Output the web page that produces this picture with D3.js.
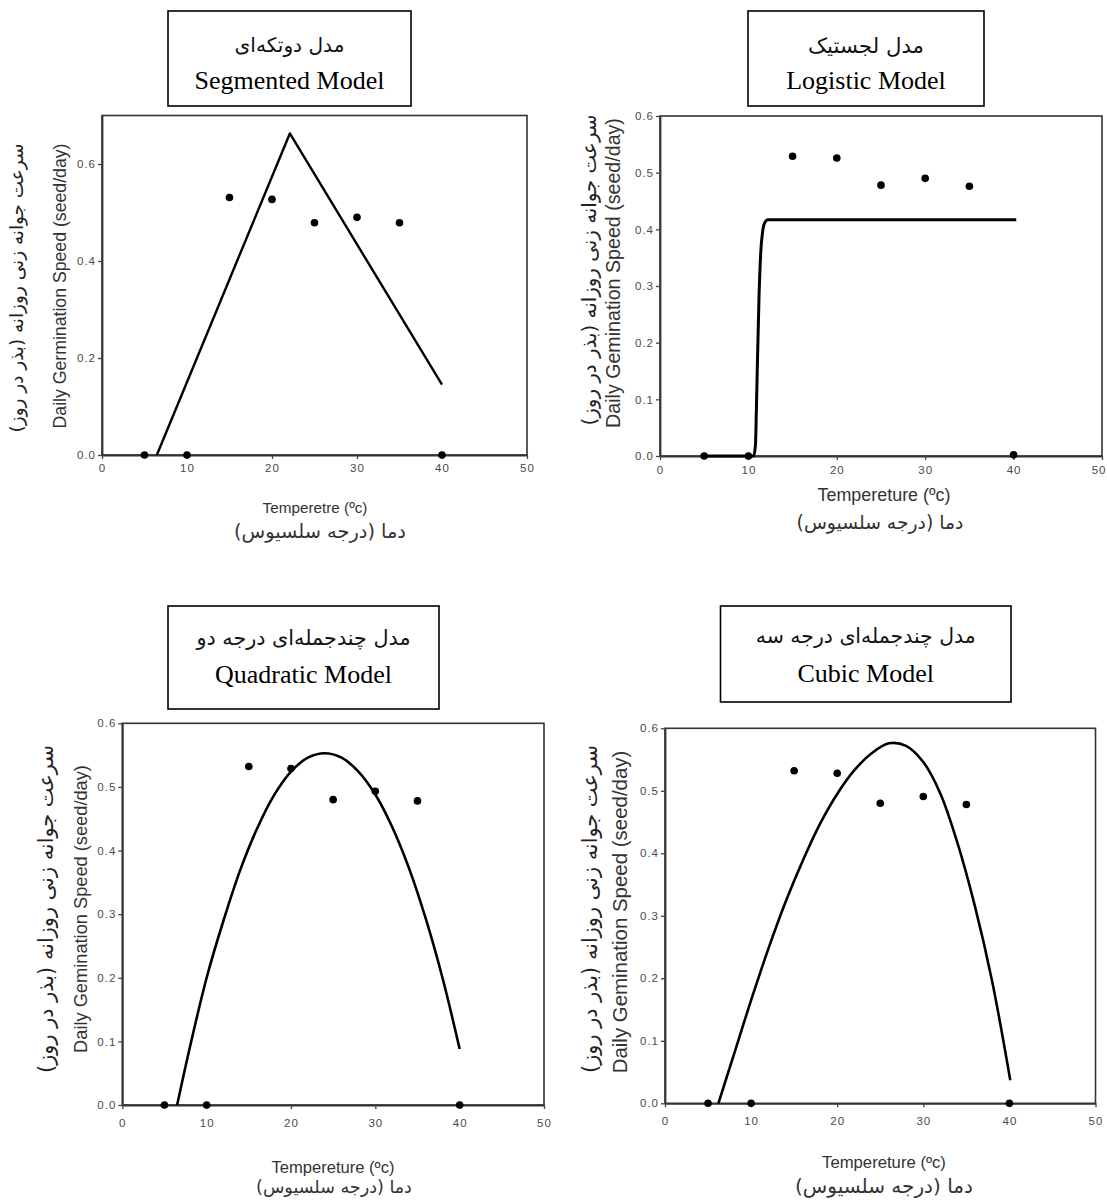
<!DOCTYPE html>
<html>
<head>
<meta charset="utf-8">
<script src="https://cdn.jsdelivr.net/npm/d3@7"></script>
<style>
  html, body { margin: 0; padding: 0; background: #fff; }
  svg { display: block; }
</style>
</head>
<body>
<svg id="chart" width="1107" height="1200"></svg>
<script>
// ---------------- DATA ----------------
const temps = [5, 10, 15, 20, 25, 30, 35, 40];

const segmentedObs = [0, 0, 0.531, 0.527, 0.479, 0.49, 0.479, 0];
const logisticObs  = [0, 0, 0.529, 0.526, 0.478, 0.49, 0.476, 0.002];
const quadraticObs = [0, 0, 0.532, 0.529, 0.48, 0.493, 0.478, 0];
const cubicObs     = [0, 0, 0.532, 0.528, 0.48, 0.491, 0.478, 0];

const segmentedFitX = [6.45, 22.1, 40];
const segmentedFitY = [0, 0.663, 0.145];

const logisticFitX = [5, 10.6, 10.8, 10.9, 11.0, 11.2, 11.4, 11.6, 11.8, 12.2, 40.3];
const logisticFitY = [0, 0, 0.02, 0.08, 0.15, 0.28, 0.36, 0.395, 0.41, 0.417, 0.417];

const quadraticFitX = [6.5, 8, 10, 12, 14, 16, 18, 20, 22, 24, 26, 28, 30, 32, 34, 36, 38, 40];
const quadraticFitY = [0, 0.09, 0.2, 0.29, 0.37, 0.435, 0.487, 0.524, 0.546, 0.553, 0.546, 0.524, 0.488, 0.437, 0.372, 0.292, 0.198, 0.088];

const cubicFitX = [6.2, 8, 10, 12, 14, 16, 18, 20, 22, 24, 26, 28, 30, 32, 34, 36, 38, 40.1];
const cubicFitY = [0, 0.078, 0.165, 0.247, 0.322, 0.388, 0.447, 0.495, 0.533, 0.56, 0.576, 0.572, 0.546, 0.495, 0.415, 0.315, 0.195, 0.037];

const xTicks = [0, 10, 20, 30, 40, 50];
const yTicksSeg = [0, 0.2, 0.4, 0.6];
const yTicksPoly = [0, 0.1, 0.2, 0.3, 0.4, 0.5, 0.6];

const titlesFa = ["مدل دوتکه‌ای", "مدل لجستیک", "مدل چندجمله‌ای درجه دو", "مدل چندجمله‌ای درجه سه"];
const titlesEn = ["Segmented Model", "Logistic Model", "Quadratic Model", "Cubic Model"];
const yLabelsFa = ["سرعت جوانه زنی روزانه (بذر در روز)", "سرعت جوانه زنی روزانه (بذر در روز)", "سرعت جوانه زنی روزانه (بذر در روز)", "سرعت جوانه زنی روزانه (بذر در روز)"];
const yLabelsEn = ["Daily Germination Speed (seed/day)", "Daily Gemination Speed (seed/day)", "Daily Gemination Speed (seed/day)", "Daily Gemination Speed (seed/day)"];
const xLabelsEn = ["Temperetre (ºc)", "Tempereture (ºc)", "Tempereture (ºc)", "Tempereture (ºc)"];
const xLabelsFa = ["دما (درجه سلسیوس)", "دما (درجه سلسیوس)", "دما (درجه سلسیوس)", "دما (درجه سلسیوس)"];

// ---------------- LAYOUT (positions / styles) ----------------
const smooth = d3.curveCatmullRom.alpha(0.5);
const layout = [
  { obs: segmentedObs, fx: segmentedFitX, fy: segmentedFitY, curve: d3.curveLinear, lw: 2.4,
    x0: 102, x1: 527, y0: 455, y1: 115.5, ymax: 0.7, yt: yTicksSeg,
    box: [168, 11, 411, 106], faTY: 45, enTY: 80, faTW: 110,
    yFaX: 16, yFaC: 288, yFaW: 289, yEnX: 60, yEnC: 286, yEnW: 285,
    xEnC: 315, xEnY: 507, xEnW: 105, xFaC: 320, xFaY: 531, xFaW: 172, tickDy: 18 },
  { obs: logisticObs, fx: logisticFitX, fy: logisticFitY, curve: d3.curveMonotoneX, lw: 3,
    x0: 660, x1: 1102, y0: 456, y1: 116, ymax: 0.6, yt: yTicksPoly,
    box: [748, 11, 984, 106], faTY: 45, enTY: 80, faTW: 116,
    yFaX: 589, yFaC: 270, yFaW: 311, yEnX: 613, yEnC: 273, yEnW: 310,
    xEnC: 884, xEnY: 495, xEnW: 133, xFaC: 880, xFaY: 522, xFaW: 167, tickDy: 19 },
  { obs: quadraticObs, fx: quadraticFitX, fy: quadraticFitY, curve: smooth, lw: 2.6,
    x0: 122.3, x1: 544, y0: 1105, y1: 723.3, ymax: 0.6, yt: yTicksPoly,
    box: [168, 606, 439, 709], faTY: 638, enTY: 674, faTW: 214,
    yFaX: 46, yFaC: 909, yFaW: 328, yEnX: 80, yEnC: 909, yEnW: 288,
    xEnC: 333, xEnY: 1167, xEnW: 123, xFaC: 334, xFaY: 1187, xFaW: 156, tickDy: 23 },
  { obs: cubicObs, fx: cubicFitX, fy: cubicFitY, curve: smooth, lw: 2.6,
    x0: 665, x1: 1095.5, y0: 1103.3, y1: 728.3, ymax: 0.6, yt: yTicksPoly,
    box: [720.5, 606, 1011, 702], faTY: 636, enTY: 673, faTW: 220,
    yFaX: 590, yFaC: 909, yFaW: 328, yEnX: 619, yEnC: 912, yEnW: 323,
    xEnC: 884, xEnY: 1162, xEnW: 124, xFaC: 884, xFaY: 1186, xFaW: 178, tickDy: 23 }
];

const FA_FONT = "'DejaVu Sans', 'Noto Sans', sans-serif";
const EN_SERIF = "'Liberation Serif', 'Times New Roman', serif";
const EN_SANS = "'Liberation Sans', Arial, sans-serif";
const W = 1107;

const svg = d3.select("#chart");
svg.append("rect").attr("width", W).attr("height", 1200).attr("fill", "#fff");

function fitWidth(sel, target) {
  const w = sel.node().getComputedTextLength();
  const fs = parseFloat(sel.attr("font-size"));
  if (w > 0) sel.attr("font-size", (fs * target / w).toFixed(2));
}

layout.forEach((p, i) => {
  const g = svg.append("g");
  const x = d3.scaleLinear().domain([0, 50]).range([p.x0, p.x1]);
  const y = d3.scaleLinear().domain([0, p.ymax]).range([p.y0, p.y1]);

  // Title box
  g.append("rect")
    .attr("x", p.box[0]).attr("y", p.box[1])
    .attr("width", p.box[2] - p.box[0]).attr("height", p.box[3] - p.box[1])
    .attr("fill", "#fff").attr("stroke", "#000").attr("stroke-width", 1.6);
  const bc = (p.box[0] + p.box[2]) / 2;
  const tFa = g.append("text").attr("x", bc).attr("y", p.faTY)
    .attr("text-anchor", "middle").attr("dominant-baseline", "central")
    .attr("direction", "rtl").style("unicode-bidi", "plaintext")
    .attr("font-family", FA_FONT).attr("font-size", 20).attr("fill", "#111")
    .text(titlesFa[i]);
  fitWidth(tFa, p.faTW);
  g.append("text").attr("x", bc).attr("y", p.enTY)
    .attr("text-anchor", "middle").attr("dominant-baseline", "central")
    .attr("font-family", EN_SERIF).attr("font-size", 26).attr("fill", "#000")
    .text(titlesEn[i]);

  // Frame
  g.append("rect")
    .attr("x", x(0)).attr("y", y(p.ymax))
    .attr("width", x(50) - x(0)).attr("height", y(0) - y(p.ymax))
    .attr("fill", "none").attr("stroke", "#333").attr("stroke-width", 1.6);

  // Axes
  const xAxis = d3.axisBottom(x).tickValues(xTicks).tickSize(4).tickSizeOuter(0).tickFormat(d3.format("d"));
  const yAxis = d3.axisLeft(y).tickValues(p.yt).tickSize(4).tickSizeOuter(0).tickFormat(d3.format(".1f"));
  const gx = g.append("g").attr("transform", `translate(0,${y(0)})`).call(xAxis);
  const gy = g.append("g").attr("transform", `translate(${x(0)},0)`).call(yAxis);
  [gx, gy].forEach(ax => {
    ax.select(".domain").attr("stroke", "#333").attr("stroke-width", 1.8);
    ax.selectAll(".tick line").attr("stroke", "#444").attr("stroke-width", 1.3);
    ax.selectAll(".tick text")
      .attr("font-family", EN_SANS).attr("font-size", 11.5).attr("fill", "#4a4a4a")
      .style("letter-spacing", "1px");
  });
  gx.selectAll(".tick text").attr("y", p.tickDy - 5).attr("dy", "0.32em");
  gy.selectAll(".tick text").attr("x", -6);
  // keep tick labels inside the page
  gx.selectAll(".tick").each(function () {
    const t = d3.select(this).select("text");
    const bb = this.getBoundingClientRect();
    if (bb.right > W - 1) {
      t.attr("text-anchor", "end").attr("x", Math.min(6, W - 1 - x(50)));
    }
  });

  // Fit curve
  const fitPts = p.fx.map((v, k) => [v, p.fy[k]]);
  g.append("path").datum(fitPts)
    .attr("fill", "none").attr("stroke", "#000").attr("stroke-width", p.lw)
    .attr("stroke-linejoin", "round")
    .attr("d", d3.line().x(d => x(d[0])).y(d => y(d[1])).curve(p.curve));

  // Observed points
  g.selectAll("circle.obs").data(temps.map((t, k) => [t, p.obs[k]]))
    .join("circle").attr("class", "obs")
    .attr("cx", d => x(d[0])).attr("cy", d => y(d[1]))
    .attr("r", 3.8).attr("fill", "#000");

  // Y labels (rotated)
  const yFa = g.append("text")
    .attr("transform", `translate(${p.yFaX},${p.yFaC}) rotate(-90)`)
    .attr("text-anchor", "middle").attr("dominant-baseline", "central")
    .attr("direction", "rtl").style("unicode-bidi", "plaintext")
    .attr("font-family", FA_FONT).attr("font-size", 16).attr("fill", "#222")
    .text(yLabelsFa[i]);
  fitWidth(yFa, p.yFaW);
  const yEn = g.append("text")
    .attr("transform", `translate(${p.yEnX},${p.yEnC}) rotate(-90)`)
    .attr("text-anchor", "middle").attr("dominant-baseline", "central")
    .attr("font-family", EN_SANS).attr("font-size", 15).attr("fill", "#333")
    .text(yLabelsEn[i]);
  fitWidth(yEn, p.yEnW);

  // X labels
  const xEn = g.append("text").attr("x", p.xEnC).attr("y", p.xEnY)
    .attr("text-anchor", "middle").attr("dominant-baseline", "central")
    .attr("font-family", EN_SANS).attr("font-size", 14).attr("fill", "#333")
    .text(xLabelsEn[i]);
  fitWidth(xEn, p.xEnW);
  const xFa = g.append("text").attr("x", p.xFaC).attr("y", p.xFaY)
    .attr("text-anchor", "middle").attr("dominant-baseline", "central")
    .attr("direction", "rtl").style("unicode-bidi", "plaintext")
    .attr("font-family", FA_FONT).attr("font-size", 15).attr("fill", "#333")
    .text(xLabelsFa[i]);
  fitWidth(xFa, p.xFaW);
});
</script>
</body>
</html>
